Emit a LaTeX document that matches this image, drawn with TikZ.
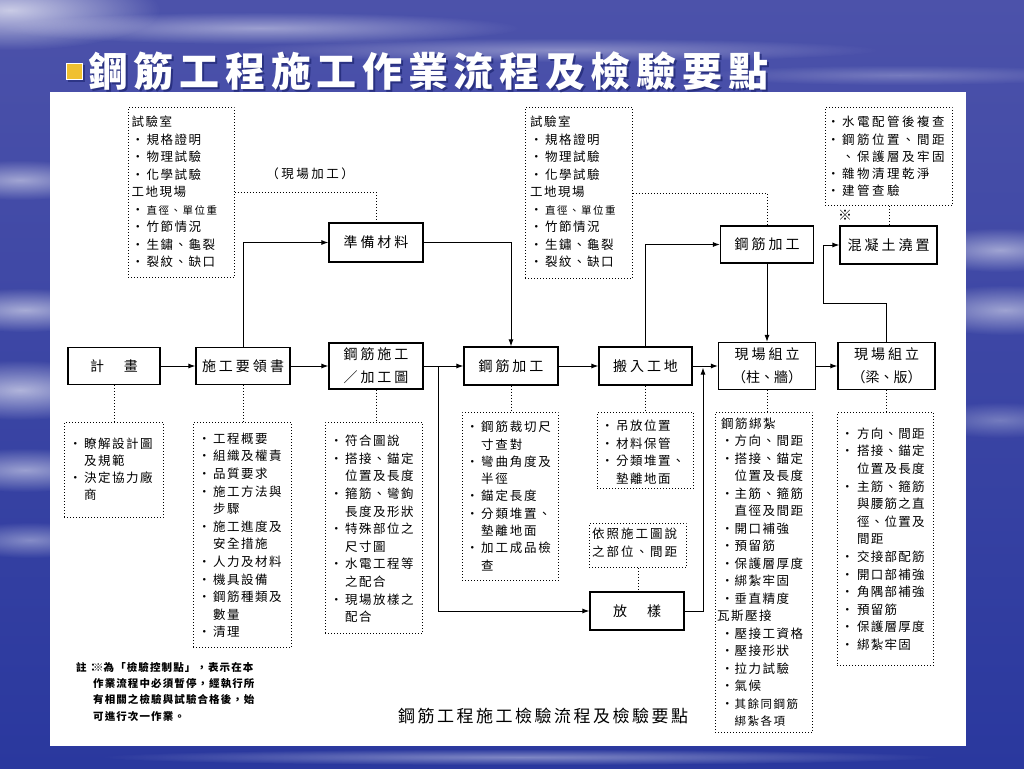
\documentclass[tikz,border=0pt]{standalone}
\usepackage{fontspec}
\setmainfont{Noto Sans CJK TC}
\usetikzlibrary{arrows.meta,fadings}
\XeTeXinterchartokenstate=1
\newdimen\cjkgap
\newdimen\blw
\blw=15pt
\makeatletter
\count@="3000 \loop \XeTeXcharclass\count@=7 \advance\count@ 1 \ifnum\count@<"3040 \repeat
\count@="4E00 \loop \XeTeXcharclass\count@=7 \advance\count@ 1 \ifnum\count@<"A000 \repeat
\count@="FF00 \loop \XeTeXcharclass\count@=7 \advance\count@ 1 \ifnum\count@<"FF60 \repeat
\makeatother
\XeTeXinterchartoks 7 7 = {\kern\cjkgap}
\newcommand\blt{\makebox[\blw][l]{・}}
\newcommand\indt{\hspace*{\blw}}
\definecolor{bgtop}{HTML}{4C52AA}
\definecolor{bgmid}{HTML}{6470C2}
\definecolor{bgbot}{HTML}{2A389E}
\definecolor{shadowc}{HTML}{1C2470}
\definecolor{sqyel}{HTML}{F0C030}
\tikzfading[name=softfade, inner color=transparent!0, outer color=transparent!100]
\tikzset{
  mbox/.style={draw, line width=1.2pt, fill=white, inner sep=0pt, align=center,
    font=\fontsize{14}{23}\selectfont\setlength{\cjkgap}{3pt}},
  dotbox/.style={draw, line width=0.9pt, dash pattern=on 0.9pt off 2.1pt, inner sep=0pt, anchor=north west},
  ltxt/.style={anchor=north west, inner sep=0pt, align=left,
    font=\fontsize{12.5}{17.5}\selectfont\setlength{\cjkgap}{1.5pt}},
  dline/.style={line width=0.9pt, dash pattern=on 0.9pt off 2.1pt},
  arr/.style={line width=1pt, -{Latex[length=7pt,width=5pt]}},
  streak/.style={white, path fading=softfade}
}
\begin{document}
\begin{tikzpicture}[x=1pt,y=-1pt]
\useasboundingbox (0,0) rectangle (1024,768);
% background
\shade[top color=bgtop, middle color=bgmid, bottom color=bgbot] (0,0) rectangle (1024,768);
\fill[streak, opacity=0.7] (10,10) ellipse (150pt and 40pt);
\fill[streak, opacity=0.45] (260,28) ellipse (260pt and 16pt);
\fill[streak, opacity=0.35] (560,50) ellipse (320pt and 12pt);
\fill[streak, opacity=0.25] (900,75) ellipse (200pt and 10pt);
\fill[streak, opacity=0.5] (20,180) ellipse (90pt and 20pt);
\fill[streak, opacity=0.55] (25,310) ellipse (100pt and 22pt);
\fill[streak, opacity=0.6] (20,390) ellipse (110pt and 30pt);
\fill[streak, opacity=0.5] (25,470) ellipse (100pt and 22pt);
\fill[streak, opacity=0.4] (30,540) ellipse (80pt and 18pt);
\fill[streak, opacity=0.5] (1000,250) ellipse (90pt and 22pt);
\fill[streak, opacity=0.5] (1005,310) ellipse (100pt and 25pt);
\fill[streak, opacity=0.3] (1000,420) ellipse (80pt and 18pt);
\fill[streak, opacity=0.4] (520,757) ellipse (420pt and 8pt);
% white panel
\fill[white] (50,92) rectangle (966,746);
% title
\fill[shadowc, opacity=0.6] (68,65) rectangle (85,82);
\fill[sqyel, draw=white, line width=1pt] (66,63) rectangle (82,79);
\node[anchor=west, inner sep=0pt, text=shadowc, opacity=0.7,
  font=\fontsize{40}{40}\selectfont\bfseries\setlength{\cjkgap}{5.7pt}] (titles) at (90,73) {鋼筋工程施工作業流程及檢驗要點};
\node[anchor=west, inner sep=0pt, text=white,
  font=\fontsize{40}{40}\selectfont\bfseries\setlength{\cjkgap}{5.7pt}] (title) at (88,71) {鋼筋工程施工作業流程及檢驗要點};

% main boxes
\node[mbox, minimum width=92pt, minimum height=37pt] (plan) at (114,366) {計\hspace{20pt}畫};
\node[mbox, minimum width=94pt, minimum height=37pt] (guide) at (243,366) {施工要領書};
\node[mbox, minimum width=94pt, minimum height=46pt] (drw) at (376,366) {鋼筋施工\\／加工圖};
\node[mbox, minimum width=94pt, minimum height=38pt] (proc) at (511,366) {鋼筋加工};
\node[mbox, minimum width=93pt, minimum height=38pt] (trans) at (645.5,366) {搬入工地};
\node[mbox, minimum width=97pt, minimum height=47pt] (asm1) at (767,366) {現場組立\\{\setlength{\cjkgap}{0pt}（柱、牆）}};
\node[mbox, minimum width=97pt, minimum height=47pt] (asm2) at (886.5,366) {現場組立\\{\setlength{\cjkgap}{0pt}（梁、版）}};
\node[mbox, minimum width=94pt, minimum height=39pt] (prep) at (376,242.5) {準備材料};
\node[mbox, minimum width=93pt, minimum height=37pt] (proc2) at (767,244.5) {鋼筋加工};
\node[mbox, minimum width=97pt, minimum height=38pt] (pour) at (888.5,245) {混凝土澆置};
\node[mbox, minimum width=94pt, minimum height=38pt] (lay) at (637,611) {放\hspace{20pt}樣};

% dotted boxes
\node[dotbox, minimum width=106pt, minimum height=170pt] (nA) at (128,107) {};
\node[dotbox, minimum width=107pt, minimum height=171pt] (nB) at (525,107) {};
\node[dotbox, minimum width=127pt, minimum height=98pt] (nC) at (825,107) {};
\node[dotbox, minimum width=99pt, minimum height=95pt] (nD) at (64,422) {};
\node[dotbox, minimum width=98pt, minimum height=225pt] (nE) at (193,422) {};
\node[dotbox, minimum width=97pt, minimum height=211pt] (nF) at (325,422) {};
\node[dotbox, minimum width=96pt, minimum height=168pt] (nG) at (462,412) {};
\node[dotbox, minimum width=96pt, minimum height=76pt] (nH) at (597,412) {};
\node[dotbox, minimum width=97pt, minimum height=44pt] (nI) at (589,523) {};
\node[dotbox, minimum width=97pt, minimum height=320pt] (nJ) at (715,412) {};
\node[dotbox, minimum width=96pt, minimum height=253pt] (nK) at (837,412) {};

% texts in dotted boxes
\node[ltxt] (tA) at (131.5,116) {試驗室\\\blt 規格證明\\\blt 物理試驗\\\blt 化學試驗\\工地現場\\\blt {\fontsize{10.5}{17.5}\selectfont 直徑、單位重}\\\blt 竹節情況\\\blt 生鏽、龜裂\\\blt 裂紋、缺口};
\node[ltxt] (tB) at (530,116) {試驗室\\\blt 規格證明\\\blt 物理試驗\\\blt 化學試驗\\工地現場\\\blt {\fontsize{10.5}{17.5}\selectfont 直徑、單位重}\\\blt 竹節情況\\\blt 生鏽、龜裂\\\blt 裂紋、缺口};
\node[ltxt, font=\fontsize{12.5}{17.2}\selectfont\setlength{\cjkgap}{2.5pt}] (tC) at (827,116) {\blt 水電配管後複查\\\blt 鋼筋位置、間距\\\indt 、保護層及牢固\\\blt 雜物清理乾淨\\\blt 建管查驗};
\node[ltxt, font=\fontsize{12.5}{17.2}\selectfont\setlength{\cjkgap}{1.5pt}] (tD) at (69,437.5) {\blt 瞭解設計圖\\\indt 及規範\\\blt 決定協力廠\\\indt 商};
\node[ltxt, font=\fontsize{12.5}{17.6}\selectfont\setlength{\cjkgap}{1.5pt}] (tE) at (198,432.5) {\blt 工程概要\\\blt 組織及權責\\\blt 品質要求\\\blt 施工方法與\\\indt 步驟\\\blt 施工進度及\\\indt 安全措施\\\blt 人力及材料\\\blt 機具設備\\\blt 鋼筋種類及\\\indt 數量\\\blt 清理};
\node[ltxt, font=\fontsize{12.5}{17.6}\selectfont\setlength{\cjkgap}{1.5pt}] (tF) at (330,435) {\blt 符合圖說\\\blt 搭接、錨定\\\indt 位置及長度\\\blt 箍筋、彎鉤\\\indt 長度及形狀\\\blt 特殊部位之\\\indt 尺寸圖\\\blt 水電工程等\\\indt 之配合\\\blt 現場放樣之\\\indt 配合};
\node[ltxt, font=\fontsize{12.5}{17.3}\selectfont\setlength{\cjkgap}{1.8pt}] (tG) at (466,421) {\blt 鋼筋裁切尺\\\indt 寸查對\\\blt 彎曲角度及\\\indt 半徑\\\blt 錨定長度\\\blt 分類堆置、\\\indt 墊離地面\\\blt 加工成品檢\\\indt 查};
\node[ltxt, font=\fontsize{12.5}{17.8}\selectfont\setlength{\cjkgap}{1.5pt}] (tH) at (601,419.5) {\blt 吊放位置\\\blt 材料保管\\\blt 分類堆置、\\\indt 墊離地面};
\node[ltxt, font=\fontsize{12.5}{18.3}\selectfont\setlength{\cjkgap}{2pt}] (tI) at (592,527.5) {依照施工圖說\\之部位、間距};
\begingroup
\blw=13.5pt
\node[ltxt] (tJ) at (721,417.5) {鋼筋綁紮\\\blt 方向、間距\\\blt 搭接、錨定\\\indt 位置及長度\\\blt 主筋、箍筋\\\indt 直徑及間距\\\blt 開口補強\\\blt 預留筋\\\blt 保護層厚度\\\blt 綁紮牢固\\\blt 垂直精度\\\hspace*{-4pt}瓦斯壓接\\\blt 壓接工資格\\\blt 壓接形狀\\\blt 拉力試驗\\\blt 氣候\\\blt {\fontsize{11.5}{17.5}\selectfont 其餘同鋼筋}\\\indt {\fontsize{11.5}{17.5}\selectfont 綁紮各項}};
\endgroup
\begingroup
\blw=16pt
\node[ltxt, font=\fontsize{12.5}{17.6}\selectfont\setlength{\cjkgap}{1.2pt}] (tK) at (841,427.5) {\blt 方向、間距\\\blt 搭接、錨定\\\indt 位置及長度\\\blt 主筋、箍筋\\\indt 與腰筋之直\\\indt 徑、位置及\\\indt 間距\\\blt 交接部配筋\\\blt 開口部補強\\\blt 角隅部補強\\\blt 預留筋\\\blt 保護層厚度\\\blt 綁紮牢固};
\endgroup

% labels
\node[inner sep=0pt, font=\fontsize{12.5}{12.5}\selectfont\setlength{\cjkgap}{2.5pt}] (lbl) at (310,174) {（現場加工）};
\node[inner sep=0pt, font=\fontsize{14}{14}\selectfont] (star) at (845,215) {※};
\node[ltxt, font=\fontsize{10.5}{16.3}\selectfont\bfseries\setlength{\cjkgap}{1.1pt}] (note) at (76,662) {\makebox[17pt][l]{註：}※為「檢驗控制點」，表示在本\\\hspace*{17pt}作業流程中必須暫停，經執行所\\\hspace*{17pt}有相關之檢驗與試驗合格後，始\\\hspace*{17pt}可進行次一作業。};
\node[anchor=west, inner sep=0pt, font=\fontsize{17}{17}\selectfont\setlength{\cjkgap}{2.5pt}] (cap) at (398,716) {鋼筋工程施工檢驗流程及檢驗要點};

% solid connectors
\coordinate (br) at (438,366);
\coordinate (jn) at (703,367.5);
\coordinate (k1) at (823,303);
\draw[arr] (plan.east) -- (guide.west);
\draw[arr] (guide.east) -- (drw.west);
\draw[arr] (drw.east) -- (proc.west);
\draw[arr] (proc.east) -- (trans.west);
\draw[arr] (trans.east) -- (asm1.west);
\draw[arr] (asm1.east) -- (asm2.west);
\draw[arr] (guide.north) |- (prep.west);
\draw[arr] (prep.east) -| (proc.north);
\draw[arr] (trans.north) |- (proc2.west);
\draw[arr] (proc2.south) -- (asm1.north);
\draw[arr] (asm2.north) |- (k1) |- (pour.west);
\draw[arr] (br) |- (lay.west);
\draw[arr] (lay.east) -| (jn);

% dotted connectors
\draw[dline] (nA.east) -| (prep.north);
\draw[dline] (nB.east) -| (proc2.north);
\draw[dline] (nC.south) -- (nC.south |- pour.north);
\draw[dline] (plan.south) -- (plan.south |- nD.north);
\draw[dline] (guide.south) -- (guide.south |- nE.north);
\draw[dline] (drw.south) -- (drw.south |- nF.north);
\draw[dline] (proc.south) -- (proc.south |- nG.north);
\draw[dline] (trans.south) -- (trans.south |- nH.north);
\draw[dline] (nI.south) -- (nI.south |- lay.north);
\draw[dline] (asm1.south) -- (asm1.south |- nJ.north);
\draw[dline] (asm2.south) -- (asm2.south |- nK.north);
\end{tikzpicture}
\end{document}
